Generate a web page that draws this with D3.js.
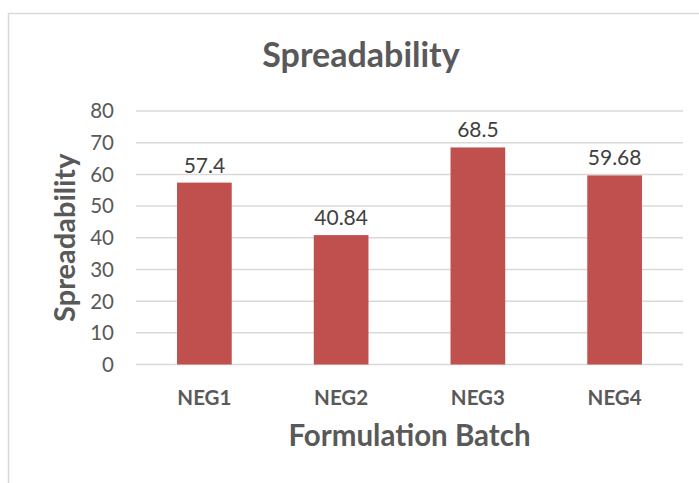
<!DOCTYPE html>
<meta charset="utf-8">
<script src="https://d3js.org/d3.v7.min.js"></script>
<style>
body { margin: 0; background: #fff; }
text { font-family: Lato, "Open Sans", sans-serif; }
.grid line { stroke: #d9d9d9; stroke-width: 1.5px; }
.bar { fill: #c0504d; }
</style>
<svg width="699" height="483"></svg>
<script>

// chart data
var batches = ["NEG1", "NEG2", "NEG3", "NEG4"];
var spreadability = [57.4, 40.84, 68.5, 59.68];
var valueLabels = ["57.4", "40.84", "68.5", "59.68"];
var yTicks = [0, 10, 20, 30, 40, 50, 60, 70, 80];

var svg = d3.select("svg");

// outer chart border (runs off the right and bottom edges)
svg.append("rect")
    .attr("x", 8.5).attr("y", 13.5)
    .attr("width", 720).attr("height", 500)
    .attr("fill", "none")
    .attr("stroke", "#d9d9d9")
    .attr("stroke-width", 1.5);

var plotLeft = 136, plotRight = 683, plotTop = 111, plotBottom = 364.5;

var x = d3.scaleBand()
    .domain(batches)
    .range([plotLeft, plotRight])
    .paddingInner(0.6)
    .paddingOuter(0.3);

var y = d3.scaleLinear()
    .domain([0, 80])
    .range([plotBottom, plotTop]);

// gridlines
svg.append("g").attr("class", "grid")
  .selectAll("line")
  .data(yTicks)
  .enter().append("line")
    .attr("x1", plotLeft).attr("x2", plotRight)
    .attr("y1", function(d) { return y(d); })
    .attr("y2", function(d) { return y(d); });

// y tick labels
svg.append("g")
  .selectAll("text")
  .data(yTicks)
  .enter().append("text")
    .attr("x", 114)
    .attr("y", function(d) { return y(d); })
    .attr("dy", "0.36em")
    .attr("text-anchor", "end")
    .attr("fill", "#595959")
    .style("font-size", "20.5px")
    .text(function(d) { return d; });

// bars
svg.append("g")
  .selectAll("rect")
  .data(spreadability)
  .enter().append("rect")
    .attr("class", "bar")
    .attr("x", function(d, i) { return x(batches[i]); })
    .attr("width", x.bandwidth())
    .attr("y", function(d) { return y(d); })
    .attr("height", function(d) { return y(0) - y(d); });

// data labels
svg.append("g")
  .selectAll("text")
  .data(spreadability)
  .enter().append("text")
    .attr("x", function(d, i) { return x(batches[i]) + x.bandwidth() / 2; })
    .attr("y", function(d) { return y(d) - 10; })
    .attr("text-anchor", "middle")
    .attr("fill", "#404040")
    .style("font-size", "21px")
    .text(function(d, i) { return valueLabels[i]; });

// category labels
svg.append("g")
  .selectAll("text")
  .data(batches)
  .enter().append("text")
    .attr("x", function(d) { return x(d) + x.bandwidth() / 2; })
    .attr("y", 405)
    .attr("text-anchor", "middle")
    .attr("fill", "#595959")
    .style("font-size", "20.5px")
    .style("font-weight", "bold")
    .text(function(d) { return d; });

// title
svg.append("text")
    .attr("x", 361).attr("y", 67)
    .attr("text-anchor", "middle")
    .attr("fill", "#595959")
    .style("font-size", "34px")
    .style("font-weight", "bold")
    .text("Spreadability");

// axis titles
svg.append("text")
    .attr("x", (plotLeft + plotRight) / 2).attr("y", 446)
    .attr("text-anchor", "middle")
    .attr("fill", "#595959")
    .style("font-size", "29.5px")
    .style("font-weight", "bold")
    .text("Formulation Batch");

svg.append("text")
    .attr("transform", "translate(75," + ((plotTop + plotBottom) / 2) + ") rotate(-90)")
    .attr("text-anchor", "middle")
    .attr("fill", "#595959")
    .style("font-size", "29px")
    .style("font-weight", "bold")
    .text("Spreadability");

</script>
